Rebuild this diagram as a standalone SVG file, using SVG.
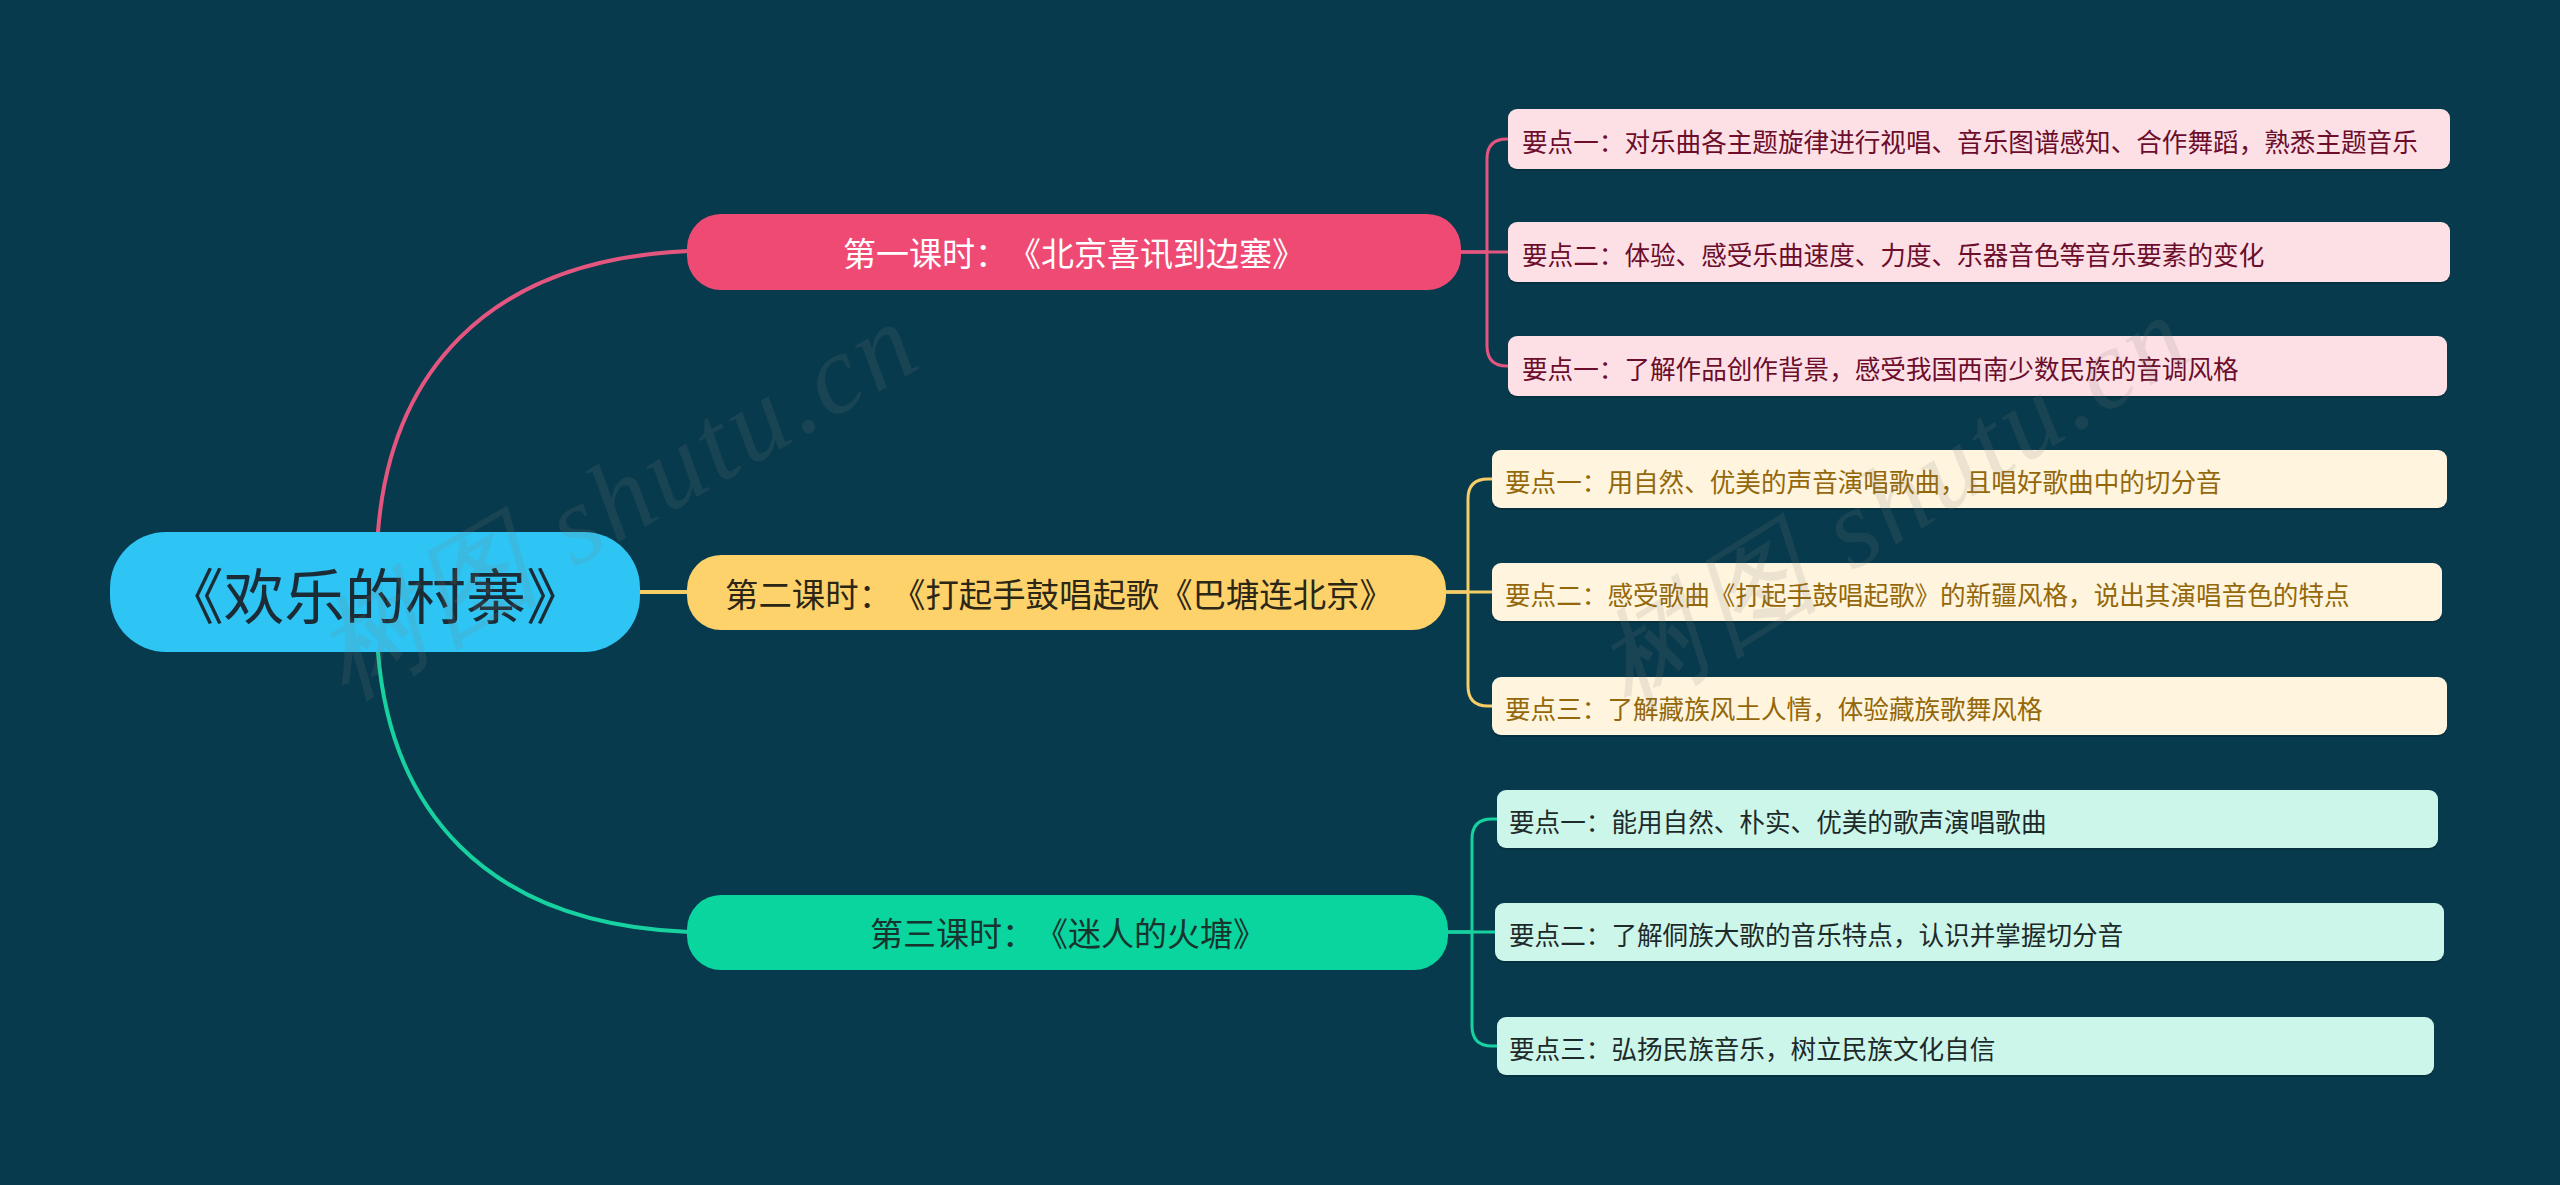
<svg xmlns="http://www.w3.org/2000/svg" width="2560" height="1185" viewBox="0 0 2560 1185">
<style>
text{font-family:"Noto Sans CJK SC","Noto Sans",sans-serif;dominant-baseline:central;text-spacing-trim:space-all}
.root{font-size:60.5px;fill:#1b2c36;text-anchor:middle}
.br{font-size:33px;text-anchor:middle}
.lf{font-size:25.6px}
.c{fill:none;stroke-linecap:round;stroke-linejoin:round}
.wm{font-family:"Liberation Serif",serif;font-style:italic;font-size:112px;fill:#808080;opacity:0.15;dominant-baseline:alphabetic;letter-spacing:4px}
</style>
<rect width="2560" height="1185" fill="#073a4c"/>
<g id="connectors">
<path class="c" stroke="#e4567f" stroke-width="4" d="M378,532 C390,380 480,260 689,251"/>
<path class="c" stroke="#f6cd66" stroke-width="4" d="M638,592 H689"/>
<path class="c" stroke="#17d2a0" stroke-width="4" d="M378,652 C390,804 480,924 689,932"/>
<g stroke="#e4567f" stroke-width="3" class="c">
<path d="M1460,252 H1487 V159 Q1487,139 1507,139 H1510"/>
<path d="M1460,252 H1510"/>
<path d="M1460,252 H1487 V346 Q1487,366 1507,366 H1510"/>
</g>
<g stroke="#f6cd66" stroke-width="3" class="c">
<path d="M1445,592 H1468 V499 Q1468,479 1488,479 H1494"/>
<path d="M1445,592 H1494"/>
<path d="M1445,592 H1468 V686 Q1468,706 1488,706 H1494"/>
</g>
<g stroke="#17d2a0" stroke-width="3" class="c">
<path d="M1448,932 H1472 V839 Q1472,819 1492,819 H1498"/>
<path d="M1448,932 H1497"/>
<path d="M1448,932 H1472 V1026 Q1472,1046 1492,1046 H1498"/>
</g>
</g>
<g id="root">
<rect x="110" y="532" width="530" height="120" rx="56" fill="#2ec4f3"/>
<text class="root" x="375" y="592">《欢乐的村寨》</text>
</g>
<g id="branch1">
<rect x="687" y="214" width="774" height="76" rx="34" fill="#ef4a73"/>
<text class="br" x="1074" y="252" fill="#ffffff">第一课时：《北京喜讯到边塞》</text>
</g>
<g id="branch2">
<rect x="687" y="555" width="759" height="75" rx="34" fill="#fdd26a"/>
<text class="br" x="1059" y="592" fill="#2b2616" style="font-size:33.4px">第二课时：《打起手鼓唱起歌《巴塘连北京》</text>
</g>
<g id="branch3">
<rect x="687" y="895" width="761" height="75" rx="34" fill="#0ad59e"/>
<text class="br" x="1068" y="932" fill="#17342e">第三课时：《迷人的火塘》</text>
</g>
<g id="leaf1-1">
<rect x="1508" y="111" width="942" height="60" rx="9" fill="#052a38" opacity="0.6"/>
<rect x="1508" y="109" width="942" height="60" rx="9" fill="#fde0e6"/>
<text class="lf" x="1522" y="140" fill="#6b0d2b">要点一：对乐曲各主题旋律进行视唱、音乐图谱感知、合作舞蹈，熟悉主题音乐</text>
</g>
<g id="leaf1-2">
<rect x="1508" y="224" width="942" height="60" rx="9" fill="#052a38" opacity="0.6"/>
<rect x="1508" y="222" width="942" height="60" rx="9" fill="#fde0e6"/>
<text class="lf" x="1522" y="253" fill="#6b0d2b">要点二：体验、感受乐曲速度、力度、乐器音色等音乐要素的变化</text>
</g>
<g id="leaf1-3">
<rect x="1508" y="338" width="939" height="60" rx="9" fill="#052a38" opacity="0.6"/>
<rect x="1508" y="336" width="939" height="60" rx="9" fill="#fde0e6"/>
<text class="lf" x="1522" y="367" fill="#6b0d2b">要点一：了解作品创作背景，感受我国西南少数民族的音调风格</text>
</g>
<g id="leaf2-1">
<rect x="1492" y="452" width="955" height="58" rx="9" fill="#052a38" opacity="0.6"/>
<rect x="1492" y="450" width="955" height="58" rx="9" fill="#fff5df"/>
<text class="lf" x="1505" y="480" fill="#94680a">要点一：用自然、优美的声音演唱歌曲，且唱好歌曲中的切分音</text>
</g>
<g id="leaf2-2">
<rect x="1492" y="565" width="950" height="58" rx="9" fill="#052a38" opacity="0.6"/>
<rect x="1492" y="563" width="950" height="58" rx="9" fill="#fff5df"/>
<text class="lf" x="1505" y="593" fill="#94680a">要点二：感受歌曲《打起手鼓唱起歌》的新疆风格，说出其演唱音色的特点</text>
</g>
<g id="leaf2-3">
<rect x="1492" y="679" width="955" height="58" rx="9" fill="#052a38" opacity="0.6"/>
<rect x="1492" y="677" width="955" height="58" rx="9" fill="#fff5df"/>
<text class="lf" x="1505" y="707" fill="#94680a">要点三：了解藏族风土人情，体验藏族歌舞风格</text>
</g>
<g id="leaf3-1">
<rect x="1497" y="792" width="941" height="58" rx="9" fill="#052a38" opacity="0.6"/>
<rect x="1497" y="790" width="941" height="58" rx="9" fill="#cdf6ea"/>
<text class="lf" x="1509" y="820" fill="#1d2a2a">要点一：能用自然、朴实、优美的歌声演唱歌曲</text>
</g>
<g id="leaf3-2">
<rect x="1495" y="905" width="949" height="58" rx="9" fill="#052a38" opacity="0.6"/>
<rect x="1495" y="903" width="949" height="58" rx="9" fill="#cdf6ea"/>
<text class="lf" x="1509" y="933" fill="#1d2a2a">要点二：了解侗族大歌的音乐特点，认识并掌握切分音</text>
</g>
<g id="leaf3-3">
<rect x="1497" y="1019" width="937" height="58" rx="9" fill="#052a38" opacity="0.6"/>
<rect x="1497" y="1017" width="937" height="58" rx="9" fill="#cdf6ea"/>
<text class="lf" x="1509" y="1047" fill="#1d2a2a">要点三：弘扬民族音乐，树立民族文化自信</text>
</g>
<g id="watermark">
<text class="wm" transform="translate(345,700) rotate(-30)">树图 shutu.cn</text>
<text class="wm" transform="translate(1628,712) rotate(-32)">树图 shutu.cn</text>
</g>
</svg>
